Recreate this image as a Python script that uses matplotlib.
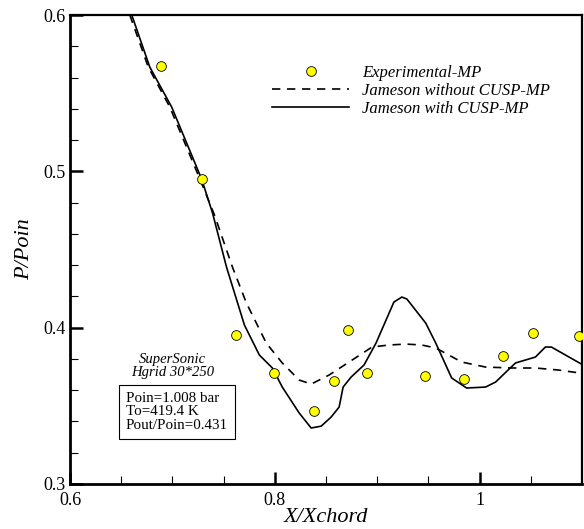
import numpy as np
import matplotlib.pyplot as plt

plt.rcParams['font.family'] = ['Liberation Serif', 'DejaVu Serif']

# experimental points
x_exp = [0.6886, 0.7285, 0.7625, 0.7995, 0.8378, 0.858, 0.8715, 0.8903,
         0.9471, 0.985, 1.0227, 1.0526, 1.0973]
y_exp = [0.5674, 0.4951, 0.3953, 0.3711, 0.3468, 0.3656, 0.3987, 0.3708,
         0.3690, 0.3671, 0.3816, 0.3965, 0.3946]

# Jameson without CUSP
x_nc = [0.6584, 0.6764, 0.6975, 0.7268, 0.7411, 0.7586, 0.7723, 0.7917,
        0.8073, 0.8238, 0.8355, 0.853, 0.8725, 0.8949, 0.9114, 0.928,
        0.9435, 0.9572, 0.9825, 1.0058, 1.0311, 1.0545, 1.0769, 1.1]
y_nc = [0.6, 0.5667, 0.5411, 0.4951, 0.472, 0.4388, 0.4157, 0.3901,
        0.3774, 0.3665, 0.3639, 0.3697, 0.3780, 0.3876, 0.3889, 0.3895,
        0.3889, 0.3870, 0.3780, 0.3748, 0.3742, 0.3742, 0.3729, 0.3708]

# Jameson with CUSP
x_c = [0.6603, 0.6779, 0.6993, 0.7285, 0.7392, 0.7528, 0.7703, 0.7849,
       0.7976, 0.8073, 0.8238, 0.8355, 0.8453, 0.855, 0.8628, 0.8667,
       0.8745, 0.8871, 0.8988, 0.9163, 0.9241, 0.929, 0.9474, 0.9572,
       0.9727, 0.9873, 1.0058, 1.0156, 1.035, 1.0545, 1.0642, 1.0701, 1.1]
y_c = [0.6, 0.5667, 0.5411, 0.4951, 0.4733, 0.4388, 0.4017, 0.3825,
       0.3742, 0.3620, 0.3454, 0.3358, 0.3370, 0.3428, 0.3492, 0.3620,
       0.3684, 0.3761, 0.3901, 0.4164, 0.4196, 0.4183, 0.4029, 0.3901,
       0.3678, 0.3614, 0.3620, 0.3652, 0.3774, 0.3812, 0.3876, 0.3876, 0.3765]

fig = plt.figure(figsize=(5.84, 5.29), dpi=100)
ax = fig.add_axes([0.1199, 0.0851, 0.8767, 0.8865])

ax.plot(x_exp, y_exp, 'o', color='#ffff00', mec='k', mew=0.6, ms=7,
        label='Experimental-MP', zorder=3)
ax.plot(x_nc, y_nc, 'k--', lw=1.2, dashes=(5, 4), label='Jameson without CUSP-MP')
ax.plot(x_c, y_c, 'k-', lw=1.2, label='Jameson with CUSP-MP')

ax.set_xlim(0.6, 1.1)
ax.set_ylim(0.3, 0.6)
ax.set_xticks([0.6, 0.8, 1.0])
ax.set_xticklabels(['0.6', '0.8', '1'])
ax.set_xticks(np.arange(0.65, 1.1, 0.05), minor=True)
ax.set_yticks([0.3, 0.4, 0.5, 0.6])
ax.set_yticks(np.arange(0.32, 0.6, 0.02), minor=True)
ax.tick_params(which='both', direction='in', labelsize=13)
ax.tick_params(which='major', length=9, width=1.8)
ax.tick_params(which='minor', length=6, width=0.8)
ax.tick_params(axis='x', pad=6)
for side in ['left', 'bottom']:
    ax.spines[side].set_linewidth(2.0)
for side in ['top', 'right']:
    ax.spines[side].set_linewidth(1.6)

ax.set_xlabel('X/Xchord', style='italic', fontsize=16, labelpad=-1)
ax.set_ylabel('P/Poin', style='italic', fontsize=16, labelpad=6)

ax.legend(loc='upper left', bbox_to_anchor=(0.366, 0.925), frameon=False,
          prop={'style': 'italic', 'size': 12},
          handlelength=4.6, handletextpad=0.8, labelspacing=0.12)

ax.text(0.2, 0.252, 'SuperSonic\nHgrid 30*250', transform=ax.transAxes,
        ha='center', va='center', style='italic', fontsize=10.5, linespacing=1.0)
ax.text(0.109, 0.1535, 'Poin=1.008 bar\nTo=419.4 K\nPout/Poin=0.431',
        transform=ax.transAxes, ha='left', va='center', fontsize=10.8,
        linespacing=1.05,
        bbox=dict(boxstyle='square,pad=0.45', fc='white', ec='k', lw=0.8))

fig.savefig('out.png', dpi=100)
